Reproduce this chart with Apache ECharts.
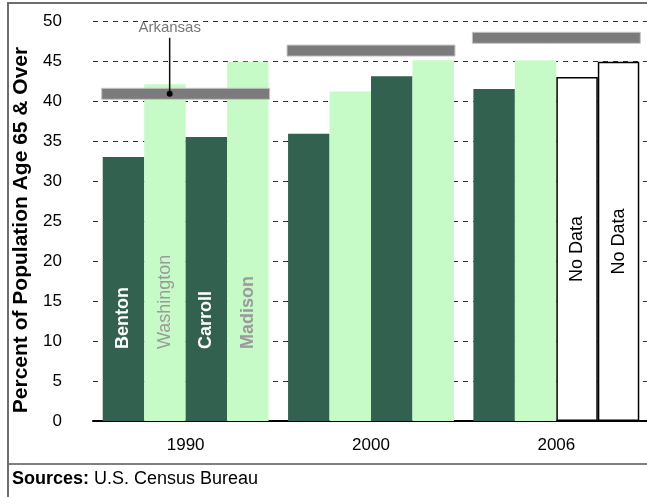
<!DOCTYPE html>
<html><head><meta charset="utf-8">
<script src="https://cdn.jsdelivr.net/npm/echarts@6/dist/echarts.min.js"></script>
<style>html,body{margin:0;padding:0;background:#fff}#c{width:647px;height:497px}</style>
</head><body><div id="c"></div>
<script>
// ---- data ----
const years = ['1990', '2000', '2006'];
const countyNames = ['Benton', 'Washington', 'Carroll', 'Madison'];
const benton = [33.0, 35.9, 41.5];
const washington = [42.1, 41.2, 45.1];
const carroll = [35.5, 43.1, 43.0];
const madison = [44.9, 45.1, 44.9];
const arkansas = [40.9, 46.3, 47.9];
const noData = [[false, false, false], [false, false, false], [false, false, true], [false, false, true]];
const yMin = 0, yMax = 50, yStep = 5;
const labelledYear = 0;

const FONT = '"Liberation Sans", Arial, Helvetica, sans-serif';
const DARK = '#33614f', LIGHT = '#c6fbc7';
const seriesValues = [benton, washington, carroll, madison];
const fills = [DARK, LIGHT, DARK, LIGHT];
const labelStyles = [
  {color: '#fff', fontWeight: 'bold'},
  {color: '#9a9a9a', fontWeight: 'normal'},
  {color: '#fff', fontWeight: 'bold'},
  {color: '#9a9a9a', fontWeight: 'bold'}
];

const barSeries = seriesValues.map((vals, s) => ({
  type: 'bar',
  name: countyNames[s],
  barGap: '0%',
  barCategoryGap: '10.5%',
  itemStyle: {color: fills[s]},
  z: 2,
  data: vals.map((v, i) => {
    const item = {value: v};
    if (noData[s][i]) {
      item.itemStyle = {color: '#fff', borderColor: '#000', borderWidth: 1.5};
      item.label = {show: true, formatter: 'No Data', position: 'inside', rotate: 90,
        align: 'center', verticalAlign: 'middle', color: '#000', fontSize: 18, fontFamily: FONT};
    } else if (i === labelledYear) {
      item.label = Object.assign({show: true, formatter: countyNames[s], position: 'insideBottom',
        distance: 72, rotate: 90, align: 'left', verticalAlign: 'middle', fontSize: 18, fontFamily: FONT}, labelStyles[s]);
    } else {
      item.label = {show: false};
    }
    return item;
  })
}));

const arkSeries = {
  type: 'custom',
  name: 'Arkansas',
  z: 5,
  data: arkansas.map((v, i) => [i, v]),
  encode: {x: 0, y: 1},
  renderItem: function (params, api) {
    const c = api.coord([api.value(0), api.value(1)]);
    const bw = api.size([1, 0])[0];
    const w = bw * 0.906;
    const children = [{
      type: 'rect',
      shape: {x: c[0] - w / 2, y: c[1] - 5.5, width: w, height: 11},
      style: {fill: '#7b7b7b', stroke: '#c4c4c4', lineWidth: 1}
    }];
    if (params.dataIndex === labelledYear) {
      const lx = c[0] - 16;
      children.push({type: 'line', shape: {x1: lx, y1: c[1], x2: lx, y2: c[1] - 56},
        style: {stroke: '#111', lineWidth: 1.5}});
      children.push({type: 'circle', shape: {cx: lx, cy: c[1], r: 3}, style: {fill: '#000'}});
      children.push({type: 'text', x: lx, y: c[1] - 66,
        style: {text: 'Arkansas', fill: '#777', font: '15px ' + FONT, align: 'center', verticalAlign: 'middle'}});
    }
    return {type: 'group', children: children};
  }
};

const chart = echarts.init(document.getElementById('c'), null, {renderer: 'canvas'});
chart.setOption({
  animation: false,
  backgroundColor: '#fff',
  textStyle: {fontFamily: FONT},
  grid: {left: 93, top: 21, width: 556, height: 400, containLabel: false, outerBoundsMode: 'none'},
  xAxis: {
    type: 'category',
    data: years,
    axisLine: {show: true, lineStyle: {color: '#000', width: 2}},
    axisTick: {show: false},
    axisLabel: {color: '#000', fontSize: 17, margin: 16, fontFamily: FONT}
  },
  yAxis: {
    type: 'value',
    min: yMin, max: yMax, interval: yStep,
    name: 'Percent of Population Age 65 & Over',
    nameLocation: 'middle',
    nameGap: 55,
    nameTextStyle: {color: '#000', fontSize: 21, fontWeight: 'bold', fontFamily: FONT, padding: [0, 18, 0, 0]},
    axisLine: {show: false},
    axisTick: {show: false},
    axisLabel: {color: '#000', fontSize: 17, margin: 31, fontFamily: FONT},
    splitLine: {show: true, lineStyle: {color: '#333', width: 1, type: [5, 5]}}
  },
  series: barSeries.concat([arkSeries]),
  graphic: [
    {type: 'rect', shape: {x: 8, y: 3, width: 700, height: 600}, style: {fill: null, stroke: '#6e6e6e', lineWidth: 2}, silent: true},
    {type: 'line', shape: {x1: 9, y1: 464, x2: 647, y2: 464}, style: {stroke: '#000', lineWidth: 1}},
    {type: 'text', x: 12, y: 479, style: {
      text: '{b|Sources:} U.S. Census Bureau',
      rich: {b: {fontWeight: 'bold', fontSize: 18, fontFamily: FONT, fill: '#000'}},
      font: '18px ' + FONT, fill: '#000', verticalAlign: 'middle'}}
  ]
});
</script></body></html>
